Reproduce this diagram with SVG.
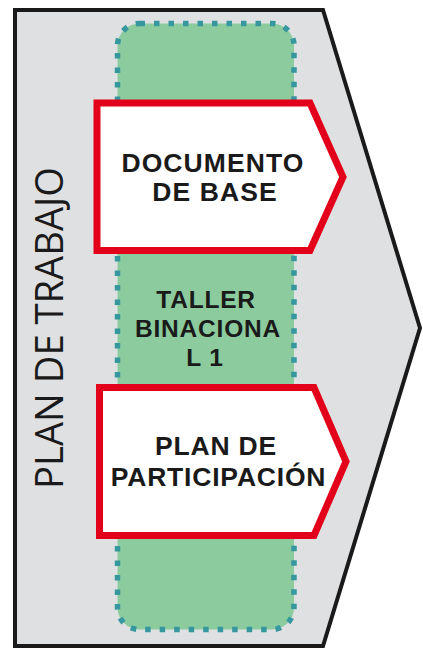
<svg xmlns="http://www.w3.org/2000/svg" width="423" height="649" viewBox="0 0 423 649">
<style>
.bold{font-family:"Liberation Sans",Arial,sans-serif;font-weight:bold;fill:#1a1a1a;text-anchor:middle;}
.box{fill:#ffffff;stroke:#e3001b;stroke-width:7;stroke-linejoin:miter;}
</style>
<rect width="423" height="649" fill="#ffffff"/>
<g id="plan-de-trabajo">
<path d="M15,10 L323,10 L420,328 L323,646 L15,646 Z" fill="#dfe0e2" stroke="#1a1a1a" stroke-width="4" stroke-linejoin="miter"/>
<text transform="translate(63,489) rotate(-90)" font-family="'Open Sans','DejaVu Sans',sans-serif" font-size="39" font-weight="normal" fill="#1a1a1a" textLength="322" lengthAdjust="spacingAndGlyphs">PLAN DE TRABAJO</text>
</g>
<g id="taller-binacional">
<rect x="117.5" y="23.5" width="176.5" height="606" rx="22" ry="22" fill="#8ccb9d" stroke="#36979e" stroke-width="5.5" stroke-dasharray="5.5 9"/>
<text class="bold" font-size="24.5" letter-spacing="0.8"><tspan x="206" y="308">TALLER</tspan><tspan x="208" y="336.5">BINACIONA</tspan><tspan x="205" y="365.5">L 1</tspan></text>
</g>
<g id="documento-de-base">
<path class="box" d="M97,103 L310,103 L343,177 L310,250.5 L97,250.5 Z"/>
<text class="bold" font-size="26.5" letter-spacing="1.1"><tspan x="213" y="171.5">DOCUMENTO</tspan><tspan x="215" y="201">DE BASE</tspan></text>
</g>
<g id="plan-de-participacion">
<path class="box" d="M99.5,387.5 L314,387.5 L346,461.5 L314,535.5 L99.5,535.5 Z"/>
<text class="bold" font-size="26.5" letter-spacing="0.8"><tspan x="216" y="455">PLAN DE</tspan><tspan x="218.5" y="486">PARTICIPACIÓN</tspan></text>
</g>
<g id="connectors"></g>
</svg>
